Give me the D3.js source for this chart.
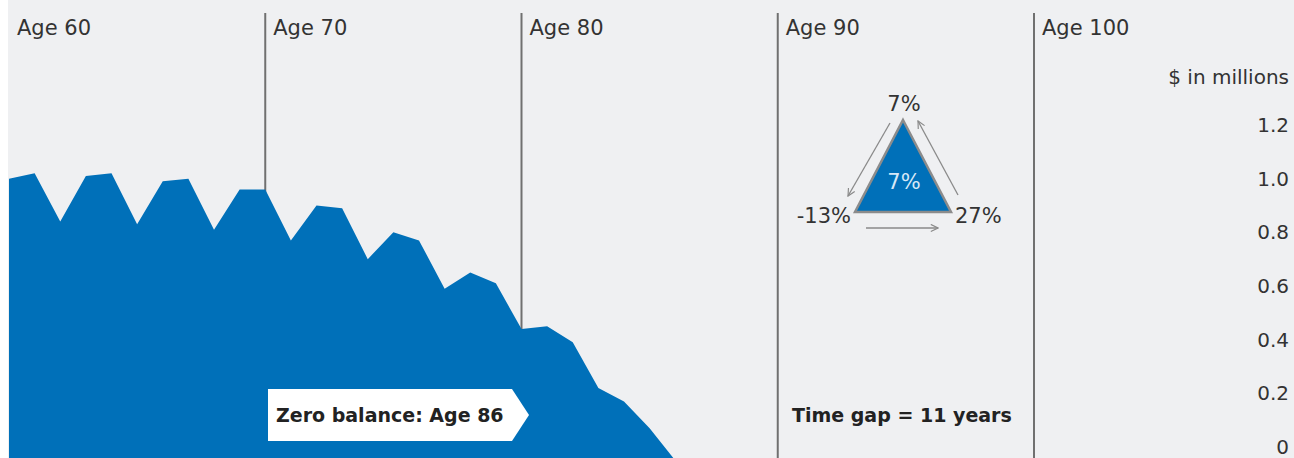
<!DOCTYPE html>
<html>
<head>
<meta charset="utf-8">
<script src="https://cdn.jsdelivr.net/npm/d3@7"></script>
<style>
  html, body { margin: 0; padding: 0; background: #ffffff; }
  svg { display: block; font-family: "DejaVu Sans", Verdana, sans-serif; }
</style>
</head>
<body>
<svg id="chart" width="1294" height="458"></svg>
<script>
// ---- data ----
const ages = [60,61,62,63,64,65,66,67,68,69,70,71,72,73,74,75,76,77,78,79,80,81,82,83,84,85,86];
const balances = [1.00,1.02,0.84,1.01,1.02,0.83,0.99,1.00,0.81,0.96,0.96,0.77,0.90,0.89,0.70,0.80,0.77,0.59,0.65,0.61,0.44,0.45,0.39,0.22,0.17,0.07,-0.05];
const ageMarks = [60,70,80,90,100];
const yTicks = [0,0.2,0.4,0.6,0.8,1.0,1.2];
const yTickLabels = ["0","0.2","0.4","0.6","0.8","1.0","1.2"];
const axisTitle = "$ in millions";
const returnsCycle = ["7%","27%","-13%"];
const averageReturn = "7%";
const zeroLabel = "Zero balance: Age 86";
const gapLabel = "Time gap = 11 years";

// ---- layout ----
const W = 1294, H = 458;
const panelLeft = 8;
const svg = d3.select("#chart");
const textColor = "#333333";
const blue = "#0070b9";

svg.append("rect").attr("x", panelLeft).attr("y", 0).attr("width", W - panelLeft).attr("height", H).attr("fill", "#eff0f2");

const x = d3.scaleLinear().domain([60, 100]).range([9, 1034]);
const y = d3.scaleLinear().domain([0, 1.2]).range([447, 125]);

// vertical age lines
svg.append("g").selectAll("line").data(ageMarks.filter(a => a > 60)).join("line")
  .attr("x1", d => x(d)).attr("x2", d => x(d))
  .attr("y1", 13).attr("y2", H)
  .attr("stroke", "#707070").attr("stroke-width", 2);

// age labels
svg.append("g").selectAll("text").data(ageMarks).join("text")
  .attr("x", d => d === 60 ? x(d) + 8 : x(d) + 8)
  .attr("y", 35)
  .attr("font-size", 21).attr("fill", textColor)
  .text(d => "Age " + d);

// area
const data = ages.map((a, i) => ({ age: a, v: balances[i] }));
const area = d3.area()
  .x(d => x(d.age))
  .y0(H)
  .y1(d => y(d.v))
  .curve(d3.curveLinear);
svg.append("path").datum(data).attr("d", area).attr("fill", blue);

// right axis
const axis = d3.axisRight(y).tickValues(yTicks).tickFormat((d, i) => yTickLabels[i]).tickSize(0).tickPadding(0);
const ag = svg.append("g").attr("transform", "translate(1289,0)").call(axis);
ag.select(".domain").remove();
ag.selectAll("text").attr("text-anchor", "end").attr("font-size", 20)
  .attr("font-family", "DejaVu Sans, Verdana, sans-serif").attr("fill", textColor);

svg.append("text").attr("x", 1289).attr("y", 84).attr("text-anchor", "end")
  .attr("font-size", 20).attr("fill", textColor).text(axisTitle);

// zero balance annotation box
const bx0 = 268, by0 = 389, by1 = 441, bx1 = 512, tip = 529;
svg.append("path")
  .attr("d", `M${bx0},${by0}L${bx1},${by0}L${tip},${(by0+by1)/2}L${bx1},${by1}L${bx0},${by1}Z`)
  .attr("fill", "#ffffff");
svg.append("text").attr("x", 276).attr("y", 415).attr("dy", "0.35em")
  .attr("font-size", 19).attr("font-weight", "bold").attr("fill", "#222")
  .text(zeroLabel);

// time gap label
svg.append("text").attr("x", 792).attr("y", 415).attr("dy", "0.35em")
  .attr("font-size", 19).attr("font-weight", "bold").attr("fill", "#222")
  .text(gapLabel);

// triangle of returns
const defs = svg.append("defs");
defs.append("marker").attr("id", "arr").attr("viewBox", "0 0 10 10")
  .attr("refX", 9).attr("refY", 5).attr("markerWidth", 9).attr("markerHeight", 9)
  .attr("orient", "auto").attr("markerUnits", "userSpaceOnUse")
  .append("path").attr("d", "M1,1L9,5L1,9").attr("fill", "none").attr("stroke", "#8a8a8a").attr("stroke-width", 1.3);

const apex = [903, 120], bl = [855, 212], br = [951, 212];
svg.append("path")
  .attr("d", `M${apex[0]},${apex[1]}L${br[0]},${br[1]}L${bl[0]},${bl[1]}Z`)
  .attr("fill", blue).attr("stroke", "#8c8c8c").attr("stroke-width", 2.5).attr("stroke-linejoin", "miter");
svg.append("text").attr("x", 904).attr("y", 182).attr("dy", "0.35em").attr("text-anchor", "middle")
  .attr("font-size", 21).attr("fill", "#d6e8f7").text(averageReturn);

const arrows = [
  [[890, 123], [848, 196]],
  [[866, 228], [938, 228]],
  [[958, 195], [918, 121]]
];
svg.append("g").selectAll("line").data(arrows).join("line")
  .attr("x1", d => d[0][0]).attr("y1", d => d[0][1])
  .attr("x2", d => d[1][0]).attr("y2", d => d[1][1])
  .attr("stroke", "#8a8a8a").attr("stroke-width", 1.3)
  .attr("marker-end", "url(#arr)");

const retPos = [[904, 104, "middle"], [955, 216, "start"], [851, 216, "end"]];
svg.append("g").selectAll("text").data(returnsCycle).join("text")
  .attr("x", (d, i) => retPos[i][0]).attr("y", (d, i) => retPos[i][1]).attr("dy", "0.35em")
  .attr("text-anchor", (d, i) => retPos[i][2])
  .attr("font-size", 21).attr("fill", textColor).text(d => d);
</script>
</body>
</html>
